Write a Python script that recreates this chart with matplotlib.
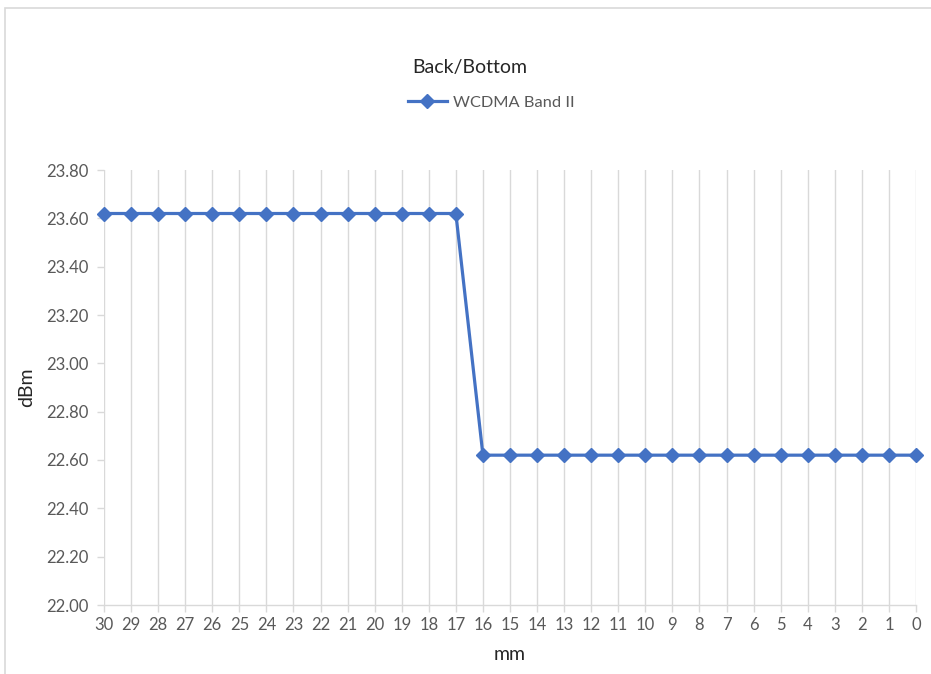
import matplotlib
matplotlib.use('Agg')
import matplotlib.pyplot as plt
from matplotlib.patches import Rectangle

# Distance (mm) and measured power (dBm)
distance_mm = list(range(30, -1, -1))
power_dbm = [23.62] * 14 + [22.62] * 17
series_name = "WCDMA Band II"
y_ticks = [22.00, 22.20, 22.40, 22.60, 22.80, 23.00, 23.20, 23.40, 23.60, 23.80]

plt.rcParams['font.family'] = ['Lato', 'DejaVu Sans']

W, H = 931, 674
fig = plt.figure(figsize=(W / 100, H / 100), dpi=100)
fig.patch.set_facecolor('white')

# chart-area border
fig.add_artist(Rectangle((5 / W, -0.1), 2, 1.1 - 8 / H, transform=fig.transFigure,
                         fill=False, edgecolor='#d9d9d9', linewidth=1.2))

ax = fig.add_axes([104 / W, 1 - 605 / H, (916 - 104) / W, (605 - 170) / H])
positions = list(range(len(distance_mm)))

ax.plot(positions, power_dbm, color='#4472C4', linewidth=2.3, marker='D',
        markersize=7, label=series_name, zorder=3, clip_on=False)

ax.set_xlim(0, len(distance_mm) - 1)
ax.set_ylim(22.0, 23.8)
ax.set_yticks(y_ticks)
ax.set_yticklabels([f"{v:.2f}" for v in y_ticks])
ax.set_xticks(positions)
ax.set_xticklabels([str(d) for d in distance_mm])

ax.grid(axis='x', color='#d9d9d9', linewidth=1.0)
ax.set_axisbelow(True)
for side in ['top', 'right', 'left']:
    ax.spines[side].set_visible(False)
ax.spines['bottom'].set_color('#d9d9d9')
ax.spines['bottom'].set_linewidth(1.0)
ax.tick_params(axis='x', colors='#595959', labelsize=12, length=5, width=1.0,
               color='#d9d9d9', pad=4)
ax.tick_params(axis='y', colors='#595959', labelsize=12, length=5, width=1.0,
               color='#d9d9d9', pad=6)

ax.set_ylabel("dBm", fontsize=14, color='#262626', labelpad=8)
ax.set_xlabel("mm", fontsize=14, color='#262626', labelpad=9)

fig.text(470 / W, 1 - 67 / H, "Back/Bottom", ha='center', va='center',
         fontsize=14, color='#262626')
leg = fig.legend(loc='center', bbox_to_anchor=(491 / W, 1 - 103 / H), frameon=False,
                 fontsize=11.8, handlelength=2.4, handletextpad=0.35)
for t in leg.get_texts():
    t.set_color('#595959')

fig.savefig('out.png', dpi=100, facecolor='white')
